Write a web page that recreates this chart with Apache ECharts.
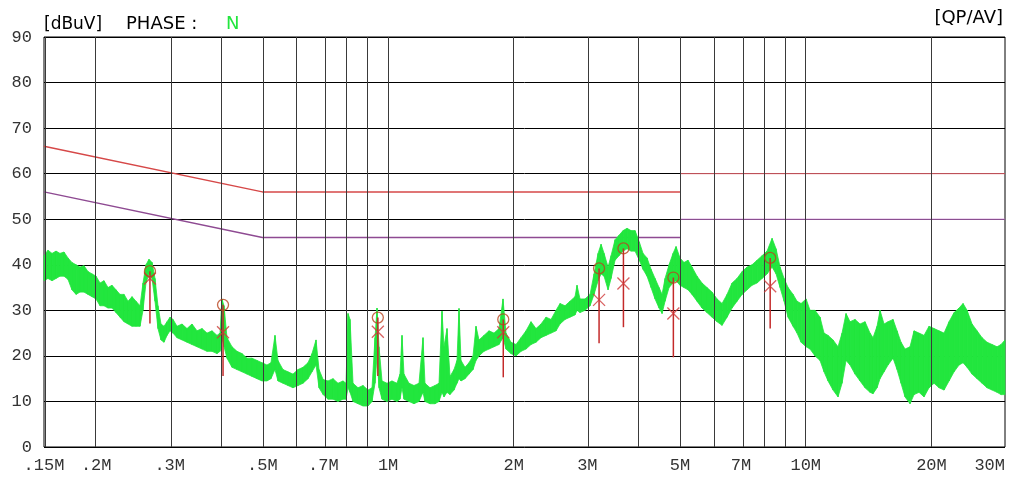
<!DOCTYPE html>
<html><head><meta charset="utf-8">
<script src="https://cdn.jsdelivr.net/npm/echarts@6/dist/echarts.min.js"></script>
<style>html,body{margin:0;padding:0;background:#fff}#c{width:1011px;height:483px}</style>
</head><body><div id="c"></div>
<script>
// ---- tick / grid definitions (MHz) ----
const gridFreqs = [0.15,0.2,0.3,0.4,0.5,0.6,0.7,0.8,0.9,1,2,3,4,5,6,7,8,9,10,20,30];
const labelFreqs = [0.15,0.2,0.3,0.5,0.7,1,2,3,5,7,10,20,30];
const labelTexts = ['.15M','.2M','.3M','.5M','.7M','1M','2M','3M','5M','7M','10M','20M','30M'];

// ---- limit lines (dBuV) ----
const limitFreq = [0.15, 0.5, 5];
const qpLimitLow = [66, 56, 56];
const avLimitLow = [56, 46, 46];
const limitFreqHigh = [5, 30];
const qpLimitHigh = [60, 60];
const avLimitHigh = [50, 50];

// ---- measured trace envelope (MHz, dBuV) ----
const traceFreq = [
0.150,0.1533,0.1568,0.1603,0.1638,0.1675,0.1712,0.1750,0.1790,0.1829,0.1870,0.1912,0.1955,0.1998,
0.2043,0.2088,0.2135,0.2182,0.2231,0.2281,0.2332,0.2384,0.2437,0.2491,0.2547,0.2589,0.2632,0.2676,0.2721,0.2766,0.2812,0.2859,0.2907,0.2956,
0.3005,0.3055,0.3123,0.3211,0.3300,0.3392,0.3487,0.3585,0.3685,0.3788,0.3894,0.3959,
0.4000,0.4047,0.4114,0.4229,0.4347,0.4469,0.4594,0.4722,0.4854,
0.499,0.5128,0.5243,0.5360,0.5449,0.5601,0.5758,0.5919,
0.6086,0.6256,0.6431,0.6574,0.6721,0.6833,
0.699,0.7181,0.7382,0.7587,0.7799,
0.7930,0.8018,0.8107,0.8242,0.8472,0.8709,0.8952,
0.9152,0.9305,0.9408,0.9512,0.9671,0.9941,
1.0217,1.0503,1.0678,1.0797,1.0916,1.1221,1.1535,1.1857,1.2122,1.2256,1.2599,1.2951,1.324,1.3461,1.361,1.3837,1.4068,1.4382,1.4621,1.4784,1.4948,1.5281,1.5622,1.597,1.6236,1.6507,1.6968,1.7442,1.793,1.8431,1.8842,1.9157,1.9692,
2.0244,2.081,2.1392,2.199,2.2604,2.3236,2.3886,2.4554,2.524,2.5802,2.6524,2.7266,2.8028,2.8338,2.881,2.9616,
3.045,3.1128,3.1824,3.2355,3.2895,3.3627,3.4188,3.495,3.573,3.6528,3.7341,3.8172,3.9024,
3.995,4.078,4.1692,4.262,4.3572,4.4544,4.5288,4.604,4.7068,4.8116,4.892,
5.0,5.1115,5.2255,5.342,5.4915,5.645,5.8025,5.965,
6.133,6.305,6.4807,6.6619,6.848,7.0395,7.2363,
7.4388,7.6468,7.8605,8.0802,8.306,8.4913,
8.6803,8.8738,9.0717,9.3254,9.5333,9.7459,
10.02,10.24,10.526,10.82,11.062,11.308,11.625,11.949,12.216,12.488,12.767,13.124,13.49,13.868,14.255,14.493,14.816,15.063,15.4,15.743,16.183,16.544,16.912,17.289,17.772,18.169,18.677,19.199,19.735,
20.289,20.856,21.438,22.038,22.654,23.288,23.806,24.338,25.018,25.718,26.436,27.174,27.934,28.716,29.356,30.0
];
const traceHi = [
42,43.2,42.5,43,42.5,42.8,41.5,40.5,40,39.5,39.8,38.5,38,37.5,
36,36.5,35,35.5,34.5,33.5,33.5,32,33,32,31,36,40,41.2,40.5,37,31,27,26.5,27.5,
28.5,28,26.5,27,26,27,25.5,26,25,25.5,24.5,25,
32.5,31,24,22,21,20.5,19.5,19.5,19,
18.5,18,18.5,24.5,19,17,16.5,16,
17,17.5,18.5,20.5,23.5,17,
14.8,14.5,15,14,14.5,
14,29.3,28,14,13,13.5,12.5,
13,24,30.5,22,14.5,14,
14.5,14,16,24.5,16,14,13.5,14,24,14,13,13.5,14,29.8,22,26,15.5,17,19,30.4,19,17.5,18.5,20,26.5,23.5,24.5,25.5,25,26,32.5,25,23,
22.5,24,25.5,27.5,26,27,28.5,28,30,31.5,31,32,33,35.5,32.5,32.5,
33.5,38,42.5,44.5,42.5,39.5,42,45.5,46.5,47.5,48,47.5,47.5,
45,42.5,41.5,39,37,35,33.5,37,40,42.5,44,
41.5,40.5,41,39.5,37.5,36,35,34,
32.5,31.5,33.5,36,37,38.5,39.5,
40,41,42,43,45.8,43.5,
39.5,37,35,33.5,32,31.5,
32.5,30,30,28.5,25,24.5,23.5,22,25,29.3,27.5,28,27,27.5,25,24,26.5,30,27,27.5,28,25.5,23,21.5,22,25.5,25,24.5,26.5,
26,25.5,25,27.5,29.5,30.5,31.5,30,27,25.5,24,23,22.5,22,22.5,23.5
];
const traceLo = [
36.5,37,36.5,37,37.5,37.5,36.8,34.5,33.5,34,34,33.5,33,32.5,
31,31,30.5,30.5,29.5,28.5,27.5,27,26.5,26.5,26.5,30,36,38,37,32,26,23.5,23,24.5,
25.5,25,24,23.5,23,22.5,22,21.5,21,21,20.5,21,
24,22,19.5,17.5,17,16.5,16,15.5,15,
14.5,14.5,15,17,14.5,14,13.5,13,
13.5,14,15,16.5,18,13,
11.5,10.5,10.5,10,10.5,
10.5,13,12,10,9.5,9,9,
10,14,20,13,10.5,10,
10.5,10,10.5,13,10.5,10,9.5,10,12,10,9.5,9.5,10,12,11,12,11.5,12.5,14,15,14.5,15,16,17,19,20,21,21.5,22,22.5,24,21.5,20.5,
20,21,21.5,22.5,23,24,24.5,25,25.5,27,28,28.5,29,30,29.5,30,
31,33.5,36.5,38,37.5,34.5,37,41,42,43,43.5,43,43,
41,39,37.5,35,32.5,30.5,29.3,32,35,36,36.5,
35.5,35,34.5,33.5,32,30.5,29.5,28.5,
27.5,26.7,28.5,30.5,32,33.5,34.5,
35.5,36,37,38,39.5,38,
35,32,28.5,26.5,25,23,
22,21.5,20,19,16.5,14.5,12.5,11,14,19,18,16,14.5,13,12,11.7,13,15,16.5,18,19.5,17,14,11,9.5,11.5,12,11,13,
14,13,12.5,14.5,16.5,18,18.5,17.5,16,15,14,13,12.5,12,11.5,11.5
];

// ---- peak markers ----
const markerFreq = [0.269, 0.4025, 0.945, 1.887, 3.20, 3.66, 4.82, 8.22];
const markerQP   = [38.6, 31.2, 28.4, 28.0, 39.2, 43.6, 37.2, 41.5];
const markerAV   = [37.0, 25.2, 25.3, 25.2, 32.3, 35.9, 29.3, 35.3];
const stemLow    = [27.1, 15.6, 15.6, 15.3, 22.8, 26.3, 19.7, 26.0];

// ---- build chart ----
const L = Math.log10;
const pairs = (fs, vs) => fs.map((f, i) => [L(f), vs[i]]);
const GREEN = '#22e63e';
const MONO = '"Liberation Mono", "DejaVu Sans Mono", monospace';
const SANS = '"DejaVu Sans", sans-serif';

// band segments: [x0, lo0, hi0, x1, lo1, hi1]
const bandSegs = [];
for (let i = 0; i + 1 < traceFreq.length; i++) {
  bandSegs.push([L(traceFreq[i]), traceLo[i], traceHi[i], L(traceFreq[i + 1]), traceLo[i + 1], traceHi[i + 1]]);
}

const chart = echarts.init(document.getElementById('c'), null, {renderer: 'canvas'});
const option = {
  animation: false,
  backgroundColor: '#ffffff',
  title: [
    {text: '[dBuV]', left: 39, top: 11, textStyle: {fontFamily: SANS, fontSize: 17, fontWeight: 'normal', color: '#000'}},
    {text: 'PHASE :', left: 121, top: 10, textStyle: {fontFamily: SANS, fontSize: 18, fontWeight: 'normal', color: '#000'}},
    {text: 'N', left: 221, top: 10, textStyle: {fontFamily: SANS, fontSize: 18, fontWeight: 'normal', color: GREEN}},
    {text: '[QP/AV]', right: 3, top: 4, textStyle: {fontFamily: SANS, fontSize: 18, fontWeight: 'normal', color: '#000'}}
  ],
  grid: {left: 44, right: 6, top: 37, bottom: 36, show: true, borderColor: '#000', borderWidth: 1, backgroundColor: 'transparent'},
  xAxis: {
    type: 'value', min: L(0.15), max: L(30),
    axisLine: {show: false}, axisTick: {show: false}, splitLine: {show: false},
    axisLabel: {
      customValues: labelFreqs.map(L),
      alignMaxLabel: 'right',
      formatter: function (v) {
        let best = 0;
        for (let i = 1; i < labelFreqs.length; i++) {
          if (Math.abs(L(labelFreqs[i]) - v) < Math.abs(L(labelFreqs[best]) - v)) best = i;
        }
        return labelTexts[best];
      },
      fontFamily: MONO, fontSize: 17, color: '#333', margin: 10
    }
  },
  yAxis: {
    type: 'value', min: 0, max: 90, interval: 10,
    axisLine: {show: false}, axisTick: {show: false},
    splitLine: {show: true, lineStyle: {color: '#000', width: 1}},
    axisLabel: {fontFamily: MONO, fontSize: 17, color: '#333', margin: 12}
  },
  series: [
    { // vertical frequency grid
      type: 'line', data: [], z: 1, silent: true,
      markLine: {
        silent: true, symbol: ['none', 'none'], label: {show: false},
        lineStyle: {color: '#3a3a3a', width: 1, type: 'solid'},
        emphasis: {disabled: true},
        data: gridFreqs.map(f => ({xAxis: L(f)}))
      }
    },
    {type: 'line', data: pairs(limitFreq, qpLimitLow), z: 2, symbol: 'none', silent: true, lineStyle: {color: '#d64848', width: 1.5}},
    {type: 'line', data: pairs(limitFreq, avLimitLow), z: 2, symbol: 'none', silent: true, lineStyle: {color: '#8e4a92', width: 1.5}},
    {type: 'line', data: pairs(limitFreqHigh, qpLimitHigh), z: 2, symbol: 'none', silent: true, lineStyle: {color: '#e0606a', width: 1}},
    {type: 'line', data: pairs(limitFreqHigh, avLimitHigh), z: 2, symbol: 'none', silent: true, lineStyle: {color: '#c070c8', width: 1}},
    { // trace band between lower and upper envelope
      type: 'custom', z: 3, silent: true,
      data: bandSegs,
      encode: {x: [0, 3], y: [1, 2, 4, 5]},
      renderItem: function (params, api) {
        const a = api.coord([api.value(0), api.value(2)]);
        const b = api.coord([api.value(3), api.value(5)]);
        const c = api.coord([api.value(3), api.value(4)]);
        const d = api.coord([api.value(0), api.value(1)]);
        return {type: 'polygon', shape: {points: [a, b, c, d]},
          style: {fill: GREEN, stroke: GREEN, lineWidth: 0.8}};
      }
    },
    { // marker stems
      type: 'custom', z: 4, silent: true,
      data: markerFreq.map((f, i) => [L(f), stemLow[i], markerQP[i]]),
      encode: {x: 0, y: [1, 2]},
      renderItem: function (params, api) {
        const p1 = api.coord([api.value(0), api.value(1)]);
        const p2 = api.coord([api.value(0), api.value(2)]);
        return {type: 'line', shape: {x1: p1[0], y1: p1[1], x2: p2[0], y2: p2[1]}, style: {stroke: '#c42a2a', lineWidth: 1.5}};
      }
    },
    { // AV markers (x)
      type: 'scatter', z: 5, silent: true,
      data: pairs(markerFreq, markerAV),
      symbol: 'path://M0,0L10,10M10,0L0,10', symbolSize: 12,
      itemStyle: {color: 'rgba(0,0,0,0)', borderColor: '#d03a3a', borderWidth: 1.3}
    },
    { // QP markers (o)
      type: 'scatter', z: 5, silent: true,
      data: pairs(markerFreq, markerQP),
      symbol: 'circle', symbolSize: 11,
      itemStyle: {color: 'rgba(0,0,0,0)', borderColor: '#b8431e', borderWidth: 1.3}
    }
  ]
};
chart.setOption(option);
</script>
</body></html>
